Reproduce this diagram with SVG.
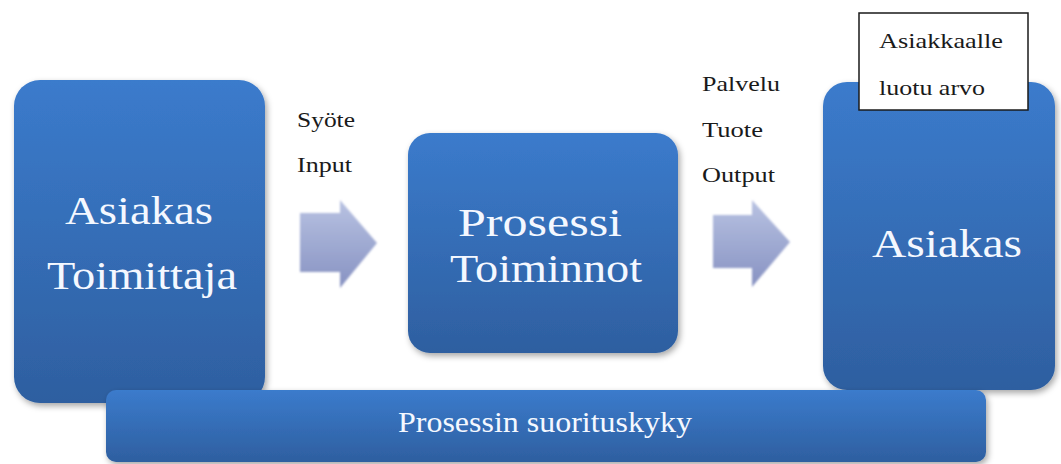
<svg xmlns="http://www.w3.org/2000/svg" width="1061" height="464" viewBox="0 0 1061 464">
<style>
.big{font-family:"Liberation Serif","Times New Roman",serif;fill:#f4f8ff;text-anchor:start}
.lbl{font-family:"Liberation Serif","Times New Roman",serif;fill:#1a1a1a;font-size:21px}
</style>
<defs>
<linearGradient id="bg" x1="0" y1="0" x2="0" y2="1">
<stop offset="0" stop-color="#3b7bcc"/>
<stop offset="1" stop-color="#2e5fa0"/>
</linearGradient>
<linearGradient id="ag" x1="0" y1="0" x2="0" y2="1">
<stop offset="0" stop-color="#b8c2e2"/>
<stop offset="1" stop-color="#8792c2"/>
</linearGradient>
<filter id="sh" x="-10%" y="-10%" width="125%" height="125%">
<feDropShadow dx="2" dy="3" stdDeviation="3" flood-color="#000" flood-opacity="0.35"/>
</filter>
<filter id="soft" x="-10%" y="-10%" width="120%" height="120%">
<feGaussianBlur stdDeviation="1.2"/>
</filter>
</defs>
<rect width="1061" height="464" fill="#ffffff"/>
<g id="node-left">
<rect x="14" y="80" width="251" height="323" rx="26" fill="url(#bg)" filter="url(#sh)"/>
<text class="big" x="65" y="224" font-size="40" textLength="148" lengthAdjust="spacingAndGlyphs">Asiakas</text>
<text class="big" x="47" y="289" font-size="40" textLength="190" lengthAdjust="spacingAndGlyphs">Toimittaja</text>
</g>
<g id="node-process">
<rect x="408" y="133" width="270" height="220" rx="22" fill="url(#bg)" filter="url(#sh)"/>
<text class="big" x="458" y="236" font-size="40" textLength="164" lengthAdjust="spacingAndGlyphs">Prosessi</text>
<text class="big" x="450" y="282" font-size="40" textLength="192" lengthAdjust="spacingAndGlyphs">Toiminnot</text>
</g>
<g id="node-right">
<rect x="823" y="82" width="232" height="308" rx="24" fill="url(#bg)" filter="url(#sh)"/>
<text class="big" x="872" y="257" font-size="40" textLength="150" lengthAdjust="spacingAndGlyphs">Asiakas</text>
</g>
<g id="node-value">
<rect x="859" y="13" width="169" height="97" fill="#ffffff" stroke="#1a1a1a" stroke-width="1.5"/>
<text class="lbl" x="879" y="48" textLength="124" lengthAdjust="spacingAndGlyphs">Asiakkaalle</text>
<text class="lbl" x="879" y="95" textLength="106" lengthAdjust="spacingAndGlyphs">luotu arvo</text>
</g>
<g id="node-bar">
<rect x="106" y="390" width="880" height="72" rx="10" fill="url(#bg)" filter="url(#sh)"/>
<text class="big" x="398" y="432" font-size="29" textLength="294" lengthAdjust="spacingAndGlyphs">Prosessin suorituskyky</text>
</g>
<g id="connectors">
<path d="M300 213 H340 V200 L377 243 L340 288 V272 H300 Z" fill="url(#ag)" filter="url(#soft)"/>
<path d="M713 215 H752 V200 L790 242 L752 287 V268 H713 Z" fill="url(#ag)" filter="url(#soft)"/>
</g>
<g id="labels">
<text class="lbl" x="297" y="127" textLength="58" lengthAdjust="spacingAndGlyphs">Syöte</text>
<text class="lbl" x="297" y="172" textLength="55" lengthAdjust="spacingAndGlyphs">Input</text>
<text class="lbl" x="702" y="91" textLength="78" lengthAdjust="spacingAndGlyphs">Palvelu</text>
<text class="lbl" x="702" y="137" textLength="61" lengthAdjust="spacingAndGlyphs">Tuote</text>
<text class="lbl" x="702" y="182" textLength="73" lengthAdjust="spacingAndGlyphs">Output</text>
</g>
</svg>
